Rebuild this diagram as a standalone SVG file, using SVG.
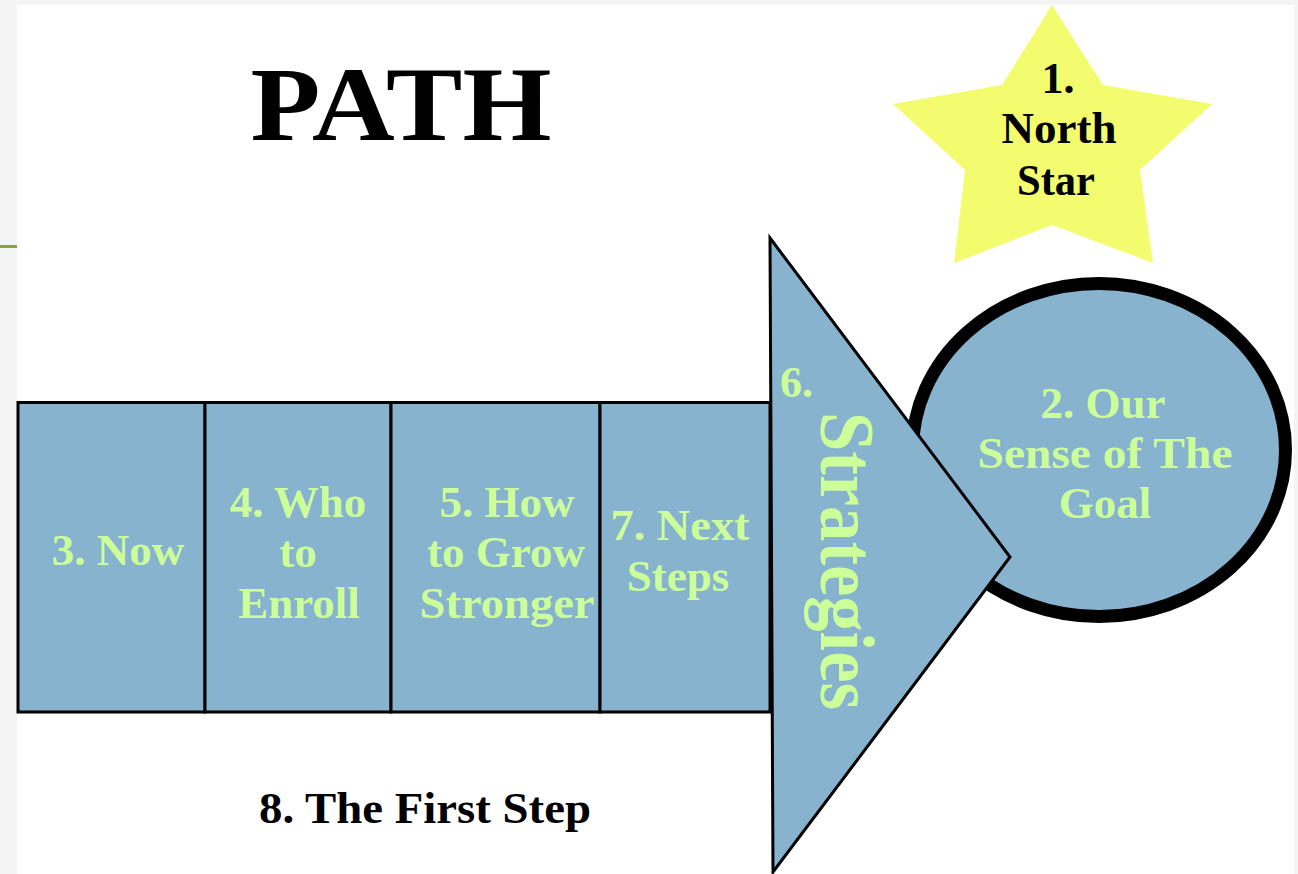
<svg xmlns="http://www.w3.org/2000/svg" width="1298" height="874" viewBox="0 0 1298 874">
<style>
.t{font-family:"Liberation Serif","Times New Roman",serif;font-weight:bold;text-anchor:middle}
.g{fill:#CCFF99}
.m{font-size:45px}
.k{fill:#000000}
.box{fill:#88B3CF;stroke:#000;stroke-width:3}
</style>
<rect x="0" y="0" width="1298" height="874" fill="#F4F4F4"/>
<rect x="17" y="5" width="1277" height="869" fill="#FFFFFF"/>
<line x1="0" y1="246.5" x2="17" y2="246.5" stroke="#8AA52A" stroke-width="3"/>
<g id="title">
<text class="t k" x="401" y="140" font-size="106" textLength="301" lengthAdjust="spacingAndGlyphs">PATH</text>
</g>
<g id="star">
<polygon points="1052,5 1103,85 1212,104 1140,170 1153,263 1052,225 954,263 965,170 893,104 1002,85" fill="#F3FC6E"/>
<text class="t k" x="1058" y="93" font-size="44">1.</text>
<text class="t k" x="1059" y="143" font-size="44" textLength="115" lengthAdjust="spacingAndGlyphs">North</text>
<text class="t k" x="1056" y="195" font-size="44" textLength="78" lengthAdjust="spacingAndGlyphs">Star</text>
</g>
<g id="goal">
<ellipse cx="1099" cy="450" rx="186.5" ry="166.5" fill="#88B3CF" stroke="#000" stroke-width="13"/>
<text class="t g m" x="1103" y="418">2. Our</text>
<text class="t g m" x="1105" y="468" textLength="255" lengthAdjust="spacingAndGlyphs">Sense of The</text>
<text class="t g m" x="1105" y="518">Goal</text>
</g>
<g id="box3">
<rect class="box" x="18" y="402.5" width="187" height="309.5"/>
<text class="t g m" x="118" y="565">3. Now</text>
</g>
<g id="box4">
<rect class="box" x="205" y="402.5" width="186" height="309.5"/>
<text class="t g m" x="298" y="517">4. Who</text>
<text class="t g m" x="298" y="567">to</text>
<text class="t g m" x="299" y="618">Enroll</text>
</g>
<g id="box5">
<rect class="box" x="391" y="402.5" width="209" height="309.5"/>
<text class="t g m" x="507" y="517">5. How</text>
<text class="t g m" x="506" y="567">to Grow</text>
<text class="t g m" x="507" y="618" textLength="175" lengthAdjust="spacingAndGlyphs">Stronger</text>
</g>
<g id="box7">
<rect class="box" x="600" y="402.5" width="170" height="309.5"/>
<text class="t g m" x="680" y="540" textLength="139" lengthAdjust="spacingAndGlyphs">7. Next</text>
<text class="t g m" x="678" y="591">Steps</text>
</g>
<g id="strategies">
<polygon points="770,238 1010,557 773,872" fill="#88B3CF" stroke="#000" stroke-width="3" stroke-linejoin="miter"/>
<text class="t g" x="780" y="397" style="text-anchor:start" font-size="44">6.</text>
<text class="t g" transform="translate(821,412) rotate(90)" style="text-anchor:start" font-size="78" textLength="298" lengthAdjust="spacingAndGlyphs">Strategies</text>
</g>
<g id="first-step">
<text class="t k" x="425" y="823" font-size="45" textLength="332" lengthAdjust="spacingAndGlyphs">8. The First Step</text>
</g>
<g id="connectors"></g>
</svg>
